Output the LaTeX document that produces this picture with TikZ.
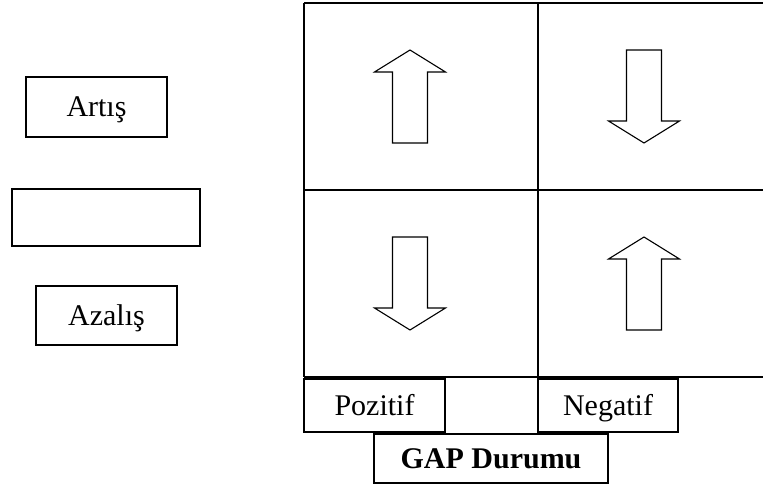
\documentclass[tikz,border=0pt]{standalone}
\usepackage{fontspec}
\setmainfont{Liberation Serif}
\usepackage{tikz}
\usetikzlibrary{calc}
\tikzset{lbox/.style={draw, thick, line width=1.2pt, inner sep=0pt, text height=20pt, text depth=0pt, font=\fontsize{30}{36}\selectfont},
upbig/.pic={\draw[line width=1.1pt, line join=miter] (0,0) -- (35.5,22) -- (17.5,22) -- (17.5,93) -- (-17.5,93) -- (-17.5,22) -- (-35.5,22) -- cycle;},
downbig/.pic={\draw[line width=1.1pt, line join=miter] (0,0) -- (35.5,-22) -- (17.5,-22) -- (17.5,-93) -- (-17.5,-93) -- (-17.5,-22) -- (-35.5,-22) -- cycle;}}

\begin{document}
\begin{tikzpicture}[x=1pt, y=-1pt]
        \useasboundingbox (0,0) rectangle (763,486);
        % the four cells
        \draw[line width=1.8pt] (304,3) -- (763,3);
        \draw[line width=1.8pt] (304,190) -- (763,190);
        \draw[line width=1.8pt] (304,377) -- (763,377);
        \draw[line width=1.8pt] (304,3) -- (304,377);
        \draw[line width=1.8pt] (538,3) -- (538,377);
        \pic at (410,50) {upbig};
        \pic at (644,143) {downbig};
        \pic at (410,330) {downbig};
        \pic at (644,237) {upbig};

        \node[lbox, minimum width=141pt, minimum height=60pt] (artis) at (96.5,107) {Artış};
        \node[lbox, minimum width=188pt, minimum height=57pt] (bos) at (106,217.5) {};
        \node[lbox, minimum width=141pt, minimum height=59pt] (azalis) at (106.5,315.5) {Azalış};

        \node[lbox, minimum width=141pt, minimum height=53pt] (pozitif) at (374.5,405.5) {Pozitif};
        \node[lbox, minimum width=140pt, minimum height=53pt] (negatif) at (608,405.5) {Negatif};
        \node[lbox, minimum width=234pt, minimum height=49pt, font=\fontsize{30}{36}\selectfont\bfseries] (gap) at (491,458.5) {GAP Durumu};
\end{tikzpicture}
\end{document}
